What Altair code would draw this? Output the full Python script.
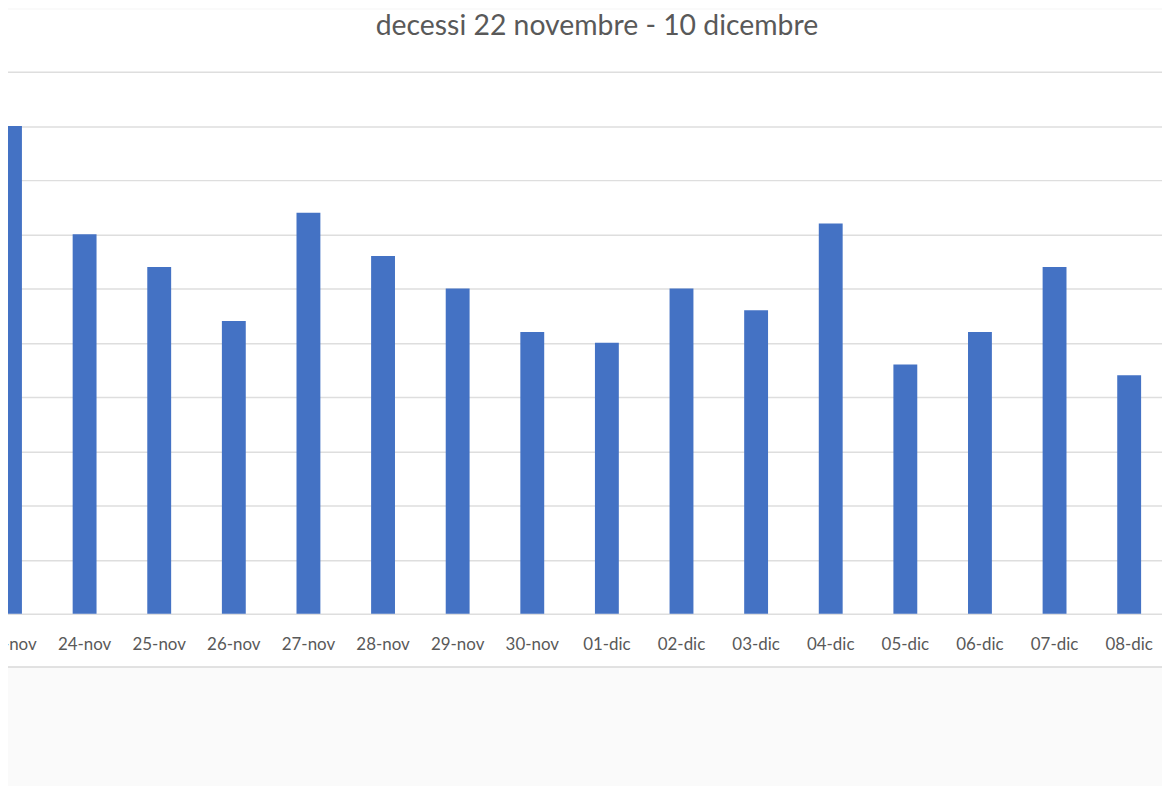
import altair as alt
import pandas as pd

# Data (grid lines every 5 units)
giorni = ["23-nov", "24-nov", "25-nov", "26-nov", "27-nov", "28-nov", "29-nov", "30-nov",
          "01-dic", "02-dic", "03-dic", "04-dic", "05-dic", "06-dic", "07-dic", "08-dic"]
decessi = [45, 35, 32, 27, 37, 33, 30, 26, 25, 30, 28, 36, 23, 26, 32, 22]
griglia = [0, 5, 10, 15, 20, 25, 30, 35, 40, 45, 50]

df = pd.DataFrame({"giorno": giorni, "decessi": decessi})

W = 1160
H = 660

chart = alt.Chart(df).mark_bar(color="#4472C4", clip=True).encode(
    x=alt.X("giorno:N", sort=giorni, title=None,
            scale=alt.Scale(domain=giorni, range=[-35.5, 1164.5],
                            paddingInner=0.68, paddingOuter=0.34),
            axis=alt.Axis(labelAngle=0, ticks=False, tickSize=0, labelPadding=-22,
                          labelBaseline="middle", labelFont="Lato", labelFontSize=17,
                          labelColor="#595959", labelOverlap=False,
                          domainColor="#d9d9d9", domainWidth=1.5, grid=False)),
    y=alt.Y("decessi:Q", title=None,
            scale=alt.Scale(domain=[0, 50], range=[607, 62], nice=False),
            axis=alt.Axis(values=griglia, labels=False, ticks=False, domain=False,
                          grid=True, gridColor="#dedede", gridWidth=1.5)),
).properties(
    width=W, height=H,
    title=alt.TitleParams("decessi 22 novembre - 10 dicembre", font="Lato", fontSize=28.5,
                          fontWeight="normal", color="#595959", offset=-31, dx=12,
                          anchor="middle"),
    autosize=alt.AutoSizeParams(type="none"),
    padding={"left": 0, "top": 0, "right": 0, "bottom": 118},
    background="#fafafa",
).configure_view(fill="white", stroke=None)

chart.save("out.html", embed_options={"renderer": "svg", "actions": False})
